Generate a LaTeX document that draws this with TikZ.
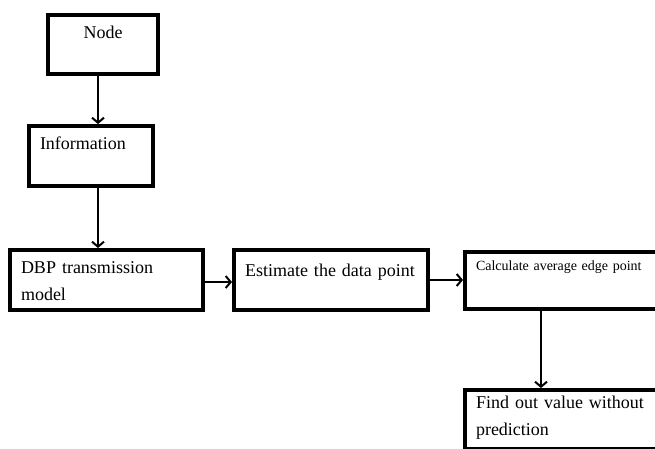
\documentclass[tikz,border=0pt]{standalone}
\usepackage{fontspec}
\setmainfont{Liberation Serif}
\usetikzlibrary{arrows.meta}

\tikzset{
  box/.style={draw, line width=4pt, anchor=north west, align=left,
    inner xsep=11pt, inner ysep=0pt, text height=23pt,
    font=\fontsize{18}{27.5}\selectfont},
  flow/.style={line width=2pt, ->}
}

\begin{document}
\begin{tikzpicture}[x=1pt, y=-1pt, >={Straight Barb[length=5pt,width=12pt]}]
\useasboundingbox (0,0) rectangle (655,448);

\node[box, text width=88pt, align=center, text depth=36pt] (node) at (46,13) {Node};
\node[box, text width=102pt, text depth=37pt] (info) at (27,124) {Information};
\node[box, text width=171pt, text depth=37pt] (dbp) at (8,248) {DBP transmission\\model};
\node[box, text width=172pt, text height=26pt, text depth=34pt] (est) at (232,248) {Estimate the data point};
\node[box, text width=213pt, text height=18pt, text depth=39pt,
  font=\fontsize{14}{16}\selectfont] (calc) at (463,250) {Calculate average edge point};
\node[box, text width=213pt, text height=18pt, text depth=41pt] (find) at (463,388) {Find out value without\\prediction};

\draw[flow] ([xshift=-5pt]node.south) -- ([xshift=-5pt]node.south |- info.north);
\draw[flow] ([xshift=7pt]info.south) -- ([xshift=7pt]info.south |- dbp.north);
\draw[flow] ([yshift=-2pt]dbp.east) -- ([yshift=-2pt]dbp.east -| est.west);
\draw[flow] (est.east) -- (est.east -| calc.west);
\draw[flow] ([xshift=78pt]calc.south west) -- ([xshift=78pt]calc.south west |- find.north);
\end{tikzpicture}
\end{document}
